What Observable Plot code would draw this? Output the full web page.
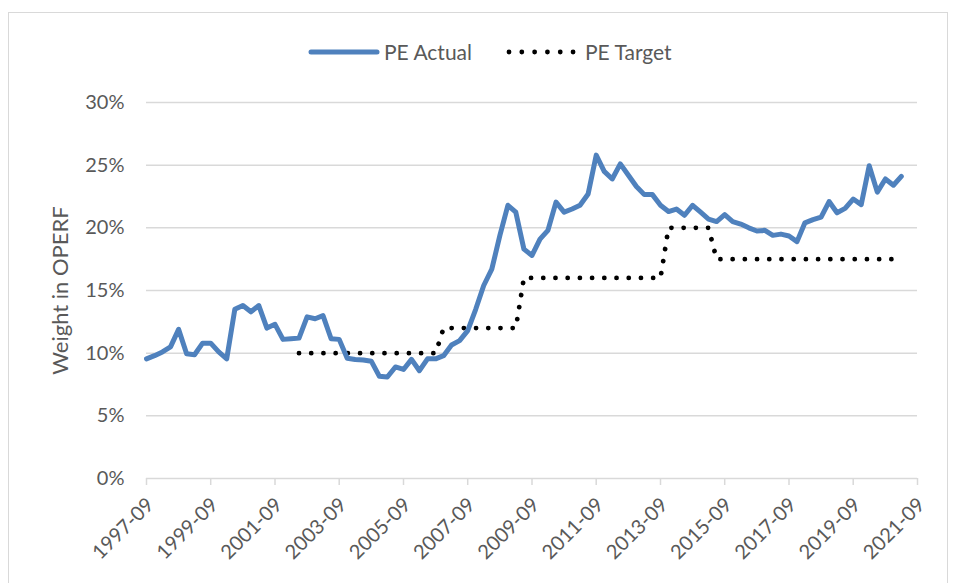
<!DOCTYPE html>
<html>
<head>
<meta charset="utf-8">
<script src="https://cdn.jsdelivr.net/npm/d3@7"></script>
<script src="https://cdn.jsdelivr.net/npm/@observablehq/plot@0.6"></script>
<style>
  html, body { margin: 0; padding: 0; background: #fff; }
  body { width: 954px; height: 583px; overflow: hidden; position: relative; font-family: Lato, "Open Sans", sans-serif; }
  #frame { position: absolute; left: 8px; top: 12px; width: 940px; height: 620px; border: 1px solid #D9D9D9; box-sizing: border-box; }
  #legend { position: relative; height: 70px; }
  .lg-text { position: absolute; top: 39px; font-size: 21px; color: #595959; line-height: 26px; white-space: nowrap; }
  .lg-sw { position: absolute; top: 42px; }
  #chart { position: relative; }
</style>
</head>
<body>
<div id="frame"></div>
<div id="legend"></div>
<div id="chart"></div>
<script>
// Series names
const seriesNames = ["PE Actual", "PE Target"];

// PE Actual: quarterly weight in OPERF (%)
const actualDates = [
  "1997-09","1997-12","1998-03","1998-06","1998-09","1998-12","1999-03","1999-06","1999-09","1999-12",
  "2000-03","2000-06","2000-09","2000-12","2001-03","2001-06","2001-09","2001-12","2002-03","2002-06",
  "2002-09","2002-12","2003-03","2003-06","2003-09","2003-12","2004-03","2004-06","2004-09","2004-12",
  "2005-03","2005-06","2005-09","2005-12","2006-03","2006-06","2006-09","2006-12","2007-03","2007-06",
  "2007-09","2007-12","2008-03","2008-06","2008-09","2008-12","2009-03","2009-06","2009-09","2009-12",
  "2010-03","2010-06","2010-09","2010-12","2011-03","2011-06","2011-09","2011-12","2012-03","2012-06",
  "2012-09","2012-12","2013-03","2013-06","2013-09","2013-12","2014-03","2014-06","2014-09","2014-12",
  "2015-03","2015-06","2015-09","2015-12","2016-03","2016-06","2016-09","2016-12","2017-03","2017-06",
  "2017-09","2017-12","2018-03","2018-06","2018-09","2018-12","2019-03","2019-06","2019-09","2019-12",
  "2020-03","2020-06","2020-09","2020-12","2021-03"
];
const actualValues = [
  9.55, 9.8, 10.1, 10.5, 11.9, 9.95, 9.87, 10.8, 10.8, 10.1,
  9.55, 13.5, 13.8, 13.3, 13.8, 12.0, 12.3, 11.1, 11.15, 11.2,
  12.9, 12.75, 13.0, 11.15, 11.1, 9.6, 9.5, 9.45, 9.35, 8.15,
  8.1, 8.9, 8.7, 9.5, 8.6, 9.55, 9.55, 9.8, 10.65, 11.0,
  11.8, 13.5, 15.4, 16.7, 19.4, 21.8, 21.25, 18.3, 17.8, 19.1,
  19.8, 22.05, 21.25, 21.5, 21.8, 22.7, 25.8, 24.5, 23.9, 25.1,
  24.2, 23.3, 22.65, 22.65, 21.8, 21.3, 21.5, 21.0, 21.8, 21.25,
  20.7, 20.5, 21.05, 20.5, 20.3, 20.0, 19.75, 19.8, 19.4, 19.5,
  19.35, 18.9, 20.4, 20.65, 20.85, 22.1, 21.2, 21.55, 22.3, 21.85,
  24.95, 22.85, 23.9, 23.4, 24.1
];

// PE Target: policy target (%) at the quarters where it holds / changes
const targetDates  = ["2002-06","2006-09","2006-12","2009-03","2009-06","2013-09","2013-12","2015-03","2015-06","2021-03"];
const targetValues = [10, 10, 12, 12, 16, 16, 20, 20, 17.5, 17.5];

// Axis ticks
const xTickLabels = ["1997-09","1999-09","2001-09","2003-09","2005-09","2007-09","2009-09","2011-09","2013-09","2015-09","2017-09","2019-09","2021-09"];
const yTicks = [0, 5, 10, 15, 20, 25, 30];
const yLabel = "Weight in OPERF";

const parse = d3.utcParse("%Y-%m");
const actual = actualDates.map((d, i) => ({date: parse(d), value: actualValues[i]}));
const target = targetDates.map((d, i) => ({date: parse(d), value: targetValues[i]}));
const xTicks = xTickLabels.map(parse);

const BLUE = "#4F81BD";
const GRID = "#D9D9D9";
const TEXT = "#595959";

const chart = Plot.plot({
  width: 954,
  height: 513,
  marginLeft: 146,
  marginRight: 37,
  marginTop: 32,
  marginBottom: 105,
  style: {fontFamily: "Lato, 'Open Sans', sans-serif", fontSize: "20px", color: TEXT, background: "transparent", overflow: "visible"},
  x: {type: "utc", domain: [xTicks[0], xTicks[xTicks.length - 1]]},
  y: {domain: [0, 30]},
  marks: [
    Plot.gridY(yTicks.filter(d => d > 0), {stroke: GRID, strokeOpacity: 1, strokeWidth: 1.5}),
    Plot.ruleY([0], {stroke: GRID, strokeWidth: 1.5}),
    // tick marks only
    Plot.axisX(xTicks, {
      tickFormat: () => "",
      tickSize: 7,
      stroke: GRID,
      strokeWidth: 1.5,
      label: null
    }),
    // rotated tick labels
    Plot.axisX(xTicks, {
      tickFormat: d3.utcFormat("%Y-%m"),
      tickRotate: -45,
      tickSize: 0,
      tickPadding: 23,
      dx: 4,
      stroke: "none",
      fontSize: 20,
      label: null
    }),
    Plot.axisY(yTicks, {
      tickFormat: d => d + "%",
      tickSize: 0,
      tickPadding: 22,
      fontSize: 20,
      label: null
    }),
    Plot.text([yLabel], {frameAnchor: "left", rotate: -90, textAnchor: "middle", dx: -86, fontSize: 22, fill: TEXT}),
    Plot.line(target, {x: "date", y: "value", stroke: "#000", strokeWidth: 4.8, strokeLinecap: "round", strokeDasharray: "0.01 12.2"}),
    Plot.line(actual, {x: "date", y: "value", stroke: BLUE, strokeWidth: 5, strokeLinejoin: "round", strokeLinecap: "round"})
  ]
});
document.getElementById("chart").appendChild(chart);

// Legend (HTML, above the SVG)
const legend = document.getElementById("legend");
legend.innerHTML = `
  <svg class="lg-sw" style="left:308px" width="72" height="20"><line x1="3" y1="10" x2="69" y2="10" stroke="${BLUE}" stroke-width="5" stroke-linecap="round"/></svg>
  <span class="lg-text" style="left:384px">${seriesNames[0]}</span>
  <svg class="lg-sw" style="left:506px" width="72" height="20"><line x1="3" y1="10" x2="68" y2="10" stroke="#000" stroke-width="4.8" stroke-linecap="round" stroke-dasharray="0.01 12.8"/></svg>
  <span class="lg-text" style="left:585px">${seriesNames[1]}</span>
`;
</script>
</body>
</html>
